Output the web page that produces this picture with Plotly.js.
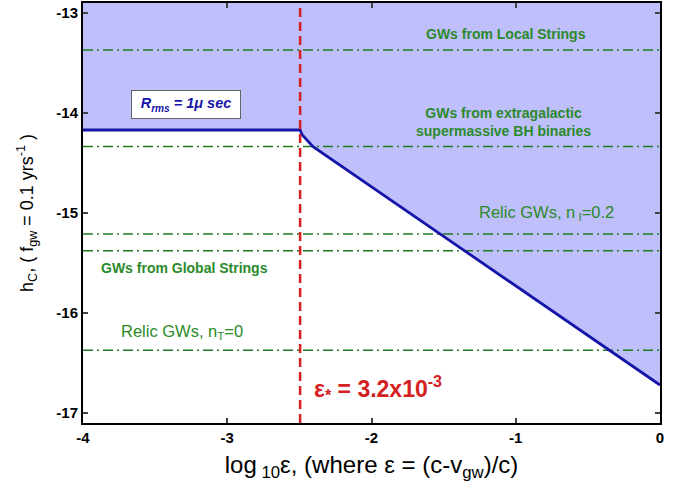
<!DOCTYPE html>
<html>
<head>
<meta charset="utf-8">
<script src="https://cdn.plot.ly/plotly-3.0.1.min.js"></script>
<style>html,body{margin:0;padding:0;background:#fff;}#chart{width:688px;height:496px;}</style>
</head>
<body>
<div id="chart"></div>
<script>
// Sensitivity boundary (R_rms = 1 microsec)
const boundaryX = [-4, -2.495, -2.48, -2.405, -1.364, -0.347, 0];
const boundaryY = [-14.17, -14.17, -14.22, -14.336, -15.368, -16.376, -16.72];

// Critical epsilon
const epsStar = 3.2e-3;

// Horizontal source levels (dash-dot lines)
const sourceLevels = [-13.37, -14.336, -15.21, -15.378, -16.373];

// Axis ticks
const xTickVals = [-4, -3, -2, -1, 0];
const xTickText = ['-4', '-3', '-2', '-1', '0'];
const yTickVals = [-17, -16, -15, -14, -13];
const yTickText = ['-17', '-16', '-15', '-14', '-13'];

const xRange = [-4, 0];
const yRange = [-17.1, -12.9];

const greenLine = '#1f7a1f';
const greenText = '#2a8a2a';
const blue = '#1515a8';
const fillBlue = 'rgb(191,191,252)';
const red = '#d42020';

const traces = [];
// invisible top edge for fill
traces.push({x: boundaryX, y: boundaryX.map(() => yRange[1]), mode: 'lines',
  line: {width: 0, color: 'rgba(0,0,0,0)'}, hoverinfo: 'skip', showlegend: false});
// filled region above boundary
traces.push({x: boundaryX, y: boundaryY, mode: 'lines', fill: 'tonexty',
  fillcolor: fillBlue, line: {width: 0, color: 'rgba(0,0,0,0)'}, showlegend: false});
// dash-dot source lines
sourceLevels.forEach(v => traces.push({x: xRange, y: [v, v], mode: 'lines',
  line: {color: greenLine, width: 1.5, dash: '10px,4px,2px,4px'}, showlegend: false}));
// boundary line
traces.push({x: boundaryX, y: boundaryY, mode: 'lines',
  line: {color: blue, width: 2.8}, showlegend: false});
// critical epsilon vertical
const xs = Math.log10(epsStar);
traces.push({x: [xs, xs], y: yRange, mode: 'lines',
  line: {color: red, width: 2.5, dash: '9px,5px'}, showlegend: false});

const font = 'Liberation Sans, Arial, sans-serif';
const annotations = [
  {x: -1.07, y: -13.206, text: 'GWs from Local Strings', font: {family: font, size: 14, color: greenText, weight: 'bold'}},
  {x: -1.088, y: -14.085, text: 'GWs from extragalactic<br>supermassive BH binaries', font: {family: font, size: 14, color: greenText, weight: 'bold'}},
  {x: -0.784, y: -14.997, text: 'Relic GWs, n<sub> I</sub>=0.2', font: {family: font, size: 16.5, color: greenText}},
  {x: -3.293, y: -15.545, text: 'GWs from Global Strings', font: {family: font, size: 14, color: greenText, weight: 'bold'}},
  {x: -3.314, y: -16.186, text: 'Relic GWs, n<sub>T</sub>=0', font: {family: font, size: 16.5, color: greenText}},
  {x: -2.415, y: -16.747, xanchor: 'left', text: 'ε<sub>*</sub> = 3.2x10<sup>-3</sup>', font: {family: font, size: 23, color: red, weight: 'bold'}},
  {x: -3.287, y: -13.911, text: 'R<sub>rms</sub> = 1μ sec', font: {family: font, size: 14.5, color: blue, weight: 'bold', style: 'italic'},
    bgcolor: '#ffffff', bordercolor: '#666666', borderwidth: 1, borderpad: 4, width: 100, height: 19}
].map(a => Object.assign({xref: 'x', yref: 'y', showarrow: false}, a));

const layout = {
  width: 688, height: 496,
  margin: {l: 83, r: 28, t: 3, b: 73},
  paper_bgcolor: '#ffffff', plot_bgcolor: '#ffffff',
  showlegend: false,
  xaxis: {range: xRange, tickvals: xTickVals, ticktext: xTickText, ticks: 'inside', ticklen: 5, tickwidth: 2,
    showline: true, linewidth: 2, linecolor: '#000', mirror: 'ticks', showgrid: false, zeroline: false,
    tickfont: {family: font, size: 15, color: '#000', weight: 'bold'},
    title: {text: 'log<sub> 10</sub>ε, (where ε = (c-v<sub>gw</sub>)/c)', font: {family: font, size: 24, color: '#000'}, standoff: 11}},
  yaxis: {range: yRange, tickvals: yTickVals, ticktext: yTickText, ticks: 'inside', ticklen: 5, tickwidth: 2,
    showline: true, linewidth: 2, linecolor: '#000', mirror: 'ticks', showgrid: false, zeroline: false,
    tickfont: {family: font, size: 15, color: '#000', weight: 'bold'},
    title: {text: 'h<sub>C</sub>, ( f<sub>gw</sub> = 0.1 yrs<sup>-1</sup> )', font: {family: font, size: 18, color: '#000'}, standoff: 18}},
  annotations: annotations
};

Plotly.newPlot('chart', traces, layout, {displayModeBar: false, staticPlot: true});
</script>
</body>
</html>
